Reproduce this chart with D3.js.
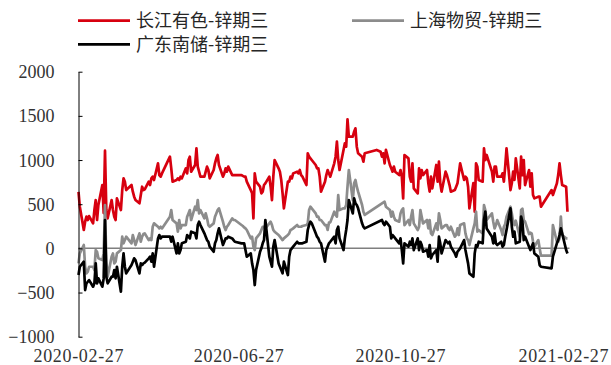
<!DOCTYPE html>
<html>
<head>
<meta charset="utf-8">
<script src="https://cdn.jsdelivr.net/npm/d3@7/dist/d3.min.js"></script>
<style>
  html, body { margin: 0; padding: 0; background: #fff; }
  svg { display: block; }
</style>
</head>
<body>
<svg id="chart" width="611" height="365"></svg>
<script>
// Trading calendar: weekdays from the first to the last session, minus exchange holidays
const firstDay = "2020-02-27";
const lastDay = "2021-03-02";
const holidays = [
  "2020-04-06", "2020-05-01", "2020-05-04", "2020-05-05", "2020-06-25", "2020-06-26",
  "2020-10-01", "2020-10-02", "2020-10-05", "2020-10-06", "2020-10-07", "2020-10-08",
  "2021-01-01", "2021-02-11", "2021-02-12", "2021-02-15", "2021-02-16", "2021-02-17"
];

// Axis ticks
const yTicks = [-1000, -500, 0, 500, 1000, 1500, 2000];
const xTicks = ["2020-02-27", "2020-06-27", "2020-10-27", "2021-02-27"];

// Series names
const seriesNames = ["长江有色-锌期三", "上海物贸-锌期三", "广东南储-锌期三"];

// 长江有色-锌期三 (one value per trading day)
const changjiang = [
  640,472,208,302,359,321,366,283,434,547,321,491,717,400,1106,434,340,547,434,359,321,566,434,660,793,755,660,717,642,585,547,510,604,698,660,668,755,717,793,812,774,963,830,812,849,1038,906,755,774,793,774,812,793,906,849,1000,1038,868,944,1133,925,868,812,
  812,868,925,887,793, 887,963,1019,1057,944, 812,849,906,868,925, 830,830,830, 830,820,812,812,755, 660,623,340,849,755, 698,623,642,717,736, 812,698,547,812,1000, 906,868,774,623,453, 755,755,812,793,849, 868,849,887,830,812, 717,1076,1038,1019,1000, 944,906,906,812,642,
  755,830,887,849,812, 963,1038,1208,1000,887, 1114,1189,1151,1461,1265, 1265,1321,1359,1151,1076, 1038,981,1076, 1114, 1095,1038,1076,963,1114, 944,906,868,925,868, 830,887,812,566,1057, 1019,812,755,963,680, 623,906,793,887,830, 887,736,642,812,680, 944,755,981,736,642,
  868,830,774,717,642, 660,698,736,849,963, 774,812,793,698,453, 740,415,963,925,774, 755,1133,1000,1057, 868,755,925,925,812, 812,849,755,925,1133, 660,736,868,774,1019, 680,1038,830,1000,717, 887,698,849,604,566, 585,585,472, 660,604, 736,830,963,830,717, 698,415
];

// 上海物贸-锌期三 (null where no quote was published)
const shanghai = [
  -170,-57, 38,-208,-283,-264,-208, -208,-245,-19,-38,-113, -132,-57,490,-150,-320, -94,-57,-170,-151,-57, -19,132,57,94,132, 57,151,94,38, 170,75,132,162,170, 94,113,94,245,283, 245,226,245,226, 359,434,321, 283,189,321,226,264, 264,359,396,434,321, 472,434,547,396,434,
  340,396,340,264,245, 283,359,396,434,453, 302,245,208,245,264, 340,321,321, 264,253,238,226,208, 113,132,19,-19,113, 170,208,245,245,226, 283,302,264,208,189, 151,132,113,94,113, 151,170,208,215,226, 264,245,245,245,253, 264,283,434,472,453, 396,359,359,321,321,
  264,264,208,291,294, 415,378,359,604,434, 453,453,491,698,887, 547,736,774,698,642, 491,415,378, null, null,null,null,528,472, 434,359,415,359,321, 302,396,434,453,264, 321,264,359,434,283, 208,245,434,359,283, 321,226,321,170,151, 283,208,396,321,226,
  264,264,226,208,245, 132,151,226,151,264, 283,170,113,94,38, 226,283,415,189,208, 170,491,434,321, 396,302,226,264,321, 208,151,245,276,359, 472,396,302,264,313, 132,434,449,321,302, 162,177,170,75,19, 94,0,-83, -83,264, 75,75,113,359,151, 113,113
];

// 广东南储-锌期三 (null where no quote was published)
const guangdong = [
  -302,-208, -151,-472,-396,-378,-359, -434,-396,-170,-396,-340, -434,-340,321,-321,-396, -321,-321,-245,-340,-208, -491,-208,-57,-208,-283, -189,-151,-113,-132, -283,-170,-189,-170,-162, -113,-94,-151,-57,-208, 113,151,113,132, 132,75,132, -57,57,-57,-19,57, 75,151,132,113,189, 170,113,264,302,264,
  170,132,94,75,19, -38,57,94,170,226, 38,75,113,113,132, 113,94,75, 57,57,57,-19,-94, -57,-170,-245,-415,-245, -38,0,57,94,321, -94,-151,-208,19,94, -170,-208,-245,-283,-151, -302,-94,-19,0,19, 75,57,57,57,57, 75,208,264,302,283, 170,132,113,75,57,
  -151,-19,19,57,75, 132,57,208,245,113, -19,113,208,321,547, 396,566,510,491,453, 283,245,226, null, null,321,283,264,302, 245,113,151,132,113, 57,113,-19,-170,57, 19,75,38,113,-19, 113,-19,75,38,-38, -19,-94,38,-113,-75, -19,-151,132,57,-57,
  94,75,57,75,19, -57,-94,-38,-19,0, 94,-19,-94,-170,-283, -321,-57,38,19,75, 57,321,415,226, 132,57,170,57,38, 75,19,38,132,208, 453,245,132,189,57, 75,359,302,94,132, 19,-19,19,57,-57, -94,-189,-208, -226,-94, 57,94,151,226,170, -19,-57
];

const colors = ["#d7000f", "#8c8c8c", "#000000"];

const parse = d3.utcParse("%Y-%m-%d");
const fmt = d3.utcFormat("%Y-%m-%d");
const holidaySet = new Set(holidays);
const tradingDays = d3.utcDays(parse(firstDay), d3.utcDay.offset(parse(lastDay), 1))
  .filter(d => d.getUTCDay() !== 0 && d.getUTCDay() !== 6 && !holidaySet.has(fmt(d)));

const svg = d3.select("#chart");
const margin = { left: 78.5, right: 47.5, top: 71.7, bottom: 28.3 };
const W = 611, H = 365;

const x = d3.scaleUtc()
  .domain([parse(xTicks[0]), parse(xTicks[xTicks.length - 1])])
  .range([margin.left, W - margin.right]);
const y = d3.scaleLinear()
  .domain([-1000, 2000])
  .range([H - margin.bottom, margin.top]);

// zero reference line
svg.append("line")
  .attr("x1", x(tradingDays[0]))
  .attr("x2", x(tradingDays[tradingDays.length - 1]) + 2)
  .attr("y1", y(0)).attr("y2", y(0))
  .attr("stroke", "#7f7f7f")
  .attr("stroke-width", 1.5);

// series lines
const allSeries = [changjiang, shanghai, guangdong];
const line = d3.line()
  .x(d => x(d.date))
  .y(d => y(d.value));

allSeries.forEach((vals, i) => {
  const pts = tradingDays
    .map((date, k) => ({ date, value: vals[k] }))
    .filter(p => p.value !== null && p.value !== undefined);
  svg.append("path")
    .datum(pts)
    .attr("fill", "none")
    .attr("stroke", colors[i])
    .attr("stroke-width", 2.7)
    .attr("stroke-linejoin", "round")
    .attr("d", line);
});

// y axis with inward ticks
const yAxis = svg.append("g")
  .attr("transform", `translate(${margin.left},0)`)
  .call(d3.axisRight(y).tickValues(yTicks).tickSize(4).tickSizeOuter(0).tickFormat(d3.format("d")));
yAxis.select(".domain").attr("stroke", "#000").attr("stroke-width", 1);
yAxis.selectAll(".tick line").attr("stroke", "#000").attr("stroke-width", 1);
yAxis.selectAll(".tick text")
  .attr("x", -24)
  .attr("dy", "0.34em")
  .attr("text-anchor", "end")
  .attr("fill", "#333")
  .style("font-family", "'Liberation Serif', 'Times New Roman', serif")
  .style("font-size", "18px")
  .text(d => d < 0 ? "\u2212" + Math.abs(d) : d);

// x tick labels
svg.append("g")
  .selectAll("text")
  .data(xTicks)
  .join("text")
  .attr("x", d => x(parse(d)))
  .attr("y", 362)
  .attr("text-anchor", "middle")
  .attr("fill", "#333")
  .attr("textLength", 90)
  .attr("lengthAdjust", "spacing")
  .style("font-family", "'Liberation Serif', 'Times New Roman', serif")
  .style("font-size", "18px")
  .text(d => d);

// legend
const legendPos = [
  { lx: 78, ly: 20.7 },
  { lx: 352, ly: 20.7 },
  { lx: 78, ly: 44.3 }
];
const legend = svg.append("g");
seriesNames.forEach((name, i) => {
  const p = legendPos[i];
  legend.append("line")
    .attr("x1", p.lx).attr("x2", p.lx + 52)
    .attr("y1", p.ly).attr("y2", p.ly)
    .attr("stroke", colors[i])
    .attr("stroke-width", 2.7);
  legend.append("text")
    .attr("x", p.lx + 58)
    .attr("y", p.ly + 6.5)
    .attr("fill", "#262626")
    .style("font-family", "'Noto Sans CJK SC', sans-serif")
    .style("font-size", "18px")
    .text(name);
});
</script>
</body>
</html>
